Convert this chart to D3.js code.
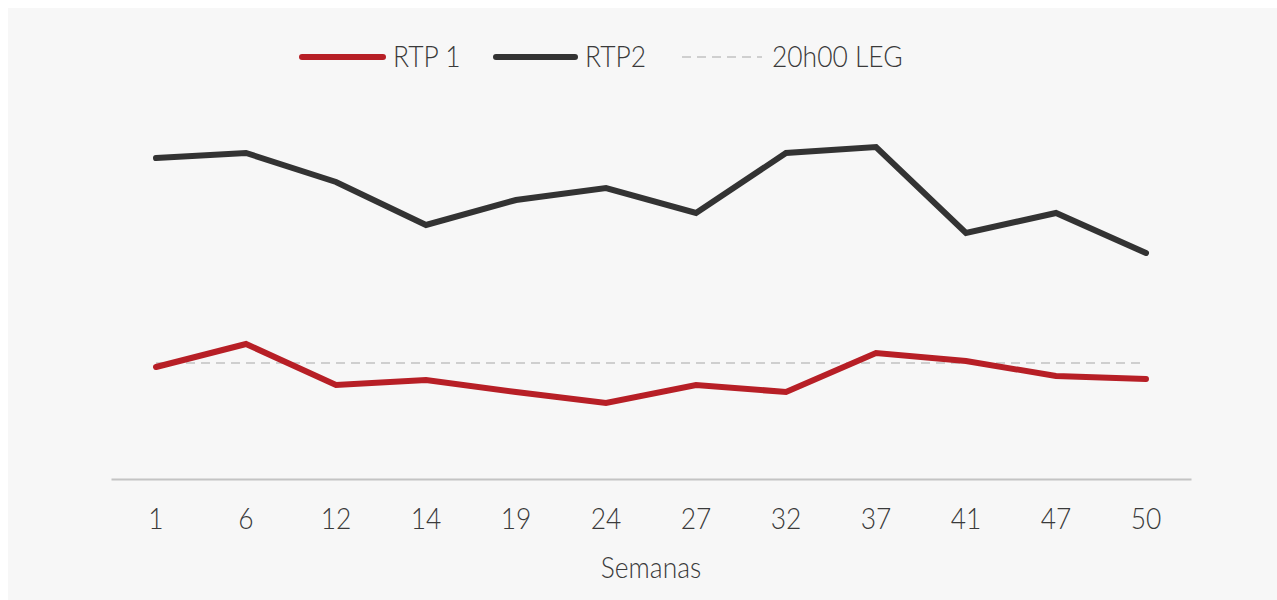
<!DOCTYPE html>
<html>
<head>
<meta charset="utf-8">
<script src="https://cdn.jsdelivr.net/npm/d3@7"></script>
<style>
  body { margin: 0; background: #fff; }
  svg text { font-family: Lato, Roboto, sans-serif; font-weight: 300; fill: #3a3a3a; }
</style>
</head>
<body>
<div id="chart"></div>
<script>
// weeks on the x axis
const semanas = ["1", "6", "12", "14", "19", "24", "27", "32", "37", "41", "47", "50"];
const rtp1 = [28, 33.75, 23.5, 24.75, 21.75, 19, 23.5, 21.75, 31.5, 29.5, 25.75, 25];
const rtp2 = [80.25, 81.5, 74.25, 63.5, 69.75, 72.75, 66.5, 81.5, 83, 61.5, 66.5, 56.5];
const leg20h = 29;

const canvW = 1277, canvH = 600;
const squeeze = "scale(0.88,1)"; // the original font is a condensed face

const svg = d3.select("#chart").append("svg")
    .attr("width", canvW)
    .attr("height", canvH);

svg.append("rect")
    .attr("x", 8).attr("y", 8)
    .attr("width", canvW - 8).attr("height", canvH - 8)
    .attr("fill", "#f7f7f7");

// scales
const x = d3.scaleBand().domain(semanas).range([111, 1191]);
const y = d3.scaleLinear().domain([0, 100]).range([479, 79]);
const cx = d => x(d) + x.bandwidth() / 2;

// x axis
const xAxis = svg.append("g")
    .attr("transform", "translate(0,479)")
    .call(d3.axisBottom(x).tickSize(0).tickPadding(29));
xAxis.select(".domain").attr("stroke", "#c4c4c4").attr("stroke-width", 2);
xAxis.selectAll("text")
    .attr("font-size", 30)
    .attr("fill", "#3a3a3a")
    .attr("font-family", null)
    .attr("transform", squeeze);

svg.append("text")
    .attr("transform", `translate(${cx("24") + 45},578) ${squeeze}`)
    .attr("text-anchor", "middle")
    .attr("font-size", 30)
    .text("Semanas");

// reference line
svg.append("line")
    .attr("x1", cx(semanas[0])).attr("x2", cx(semanas[semanas.length - 1]))
    .attr("y1", y(leg20h)).attr("y2", y(leg20h))
    .attr("stroke", "#c2c2c2")
    .attr("stroke-width", 1.5)
    .attr("stroke-dasharray", "9,6");

const line = d3.line()
    .x((d, i) => cx(semanas[i]))
    .y(d => y(d));

svg.append("path")
    .datum(rtp2)
    .attr("d", line)
    .attr("fill", "none")
    .attr("stroke", "#333333")
    .attr("stroke-width", 6)
    .attr("stroke-linecap", "round");

svg.append("path")
    .datum(rtp1)
    .attr("d", line)
    .attr("fill", "none")
    .attr("stroke", "#b71f26")
    .attr("stroke-width", 6)
    .attr("stroke-linecap", "round");

// legend
const legend = [
    { name: "RTP 1", color: "#b71f26", x: 302, w: 81, dash: null, sw: 6 },
    { name: "RTP2", color: "#333333", x: 496, w: 79, dash: null, sw: 6 },
    { name: "20h00 LEG", color: "#c2c2c2", x: 682, w: 80, dash: "9,6", sw: 1.5 }
];
const lg = svg.selectAll(".leg")
    .data(legend)
    .enter().append("g")
    .attr("class", "leg");
lg.append("line")
    .attr("x1", d => d.x).attr("x2", d => d.x + d.w)
    .attr("y1", 57).attr("y2", 57)
    .attr("stroke", d => d.color)
    .attr("stroke-width", d => d.sw)
    .attr("stroke-linecap", d => d.dash ? "butt" : "round")
    .attr("stroke-dasharray", d => d.dash);
lg.append("text")
    .attr("transform", d => `translate(${d.x + d.w + 10},67) ${squeeze}`)
    .attr("font-size", 30)
    .text(d => d.name);
</script>
</body>
</html>
